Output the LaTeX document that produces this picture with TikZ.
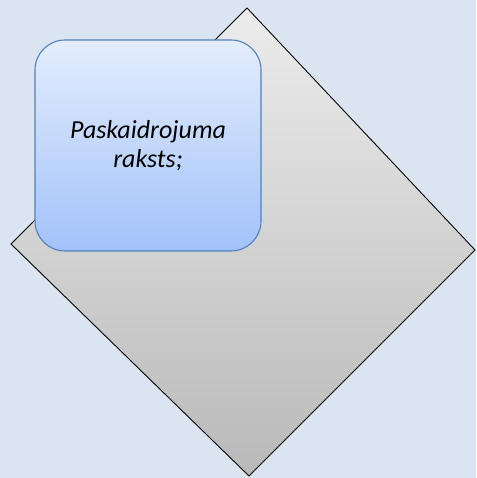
\documentclass[tikz,border=0pt]{standalone}
\usepackage{fontspec}
\setmainfont{Carlito}
\definecolor{bgblue}{HTML}{DBE5F1}
\definecolor{boxtop}{HTML}{E4EDFD}
\definecolor{boxbot}{HTML}{A2C2FA}
\definecolor{boxline}{HTML}{4F81BD}
\tikzset{
    notebox/.style={draw=boxline, line width=1.1pt, rounded corners=30pt, top color=boxtop, bottom color=boxbot,
        minimum width=226pt, minimum height=211pt, align=center, font=\itshape\fontsize{26}{29}\selectfont}
}
\begin{document}
\begin{tikzpicture}[x=1pt, y=1pt]
    % background
    \fill[bgblue] (0,0) rectangle (476,478);
    \useasboundingbox (0,0) rectangle (476,478);

    % tilted square
    \draw[top color=gray!15, bottom color=gray!55, line width=0.9pt, line join=miter] (247,470) -- (475,228) -- (249,2) -- (11,234) -- cycle;

    % note
    \node[notebox] (note) at (148,332.5) {Paskaidrojuma\\raksts;};
\end{tikzpicture}
\end{document}
